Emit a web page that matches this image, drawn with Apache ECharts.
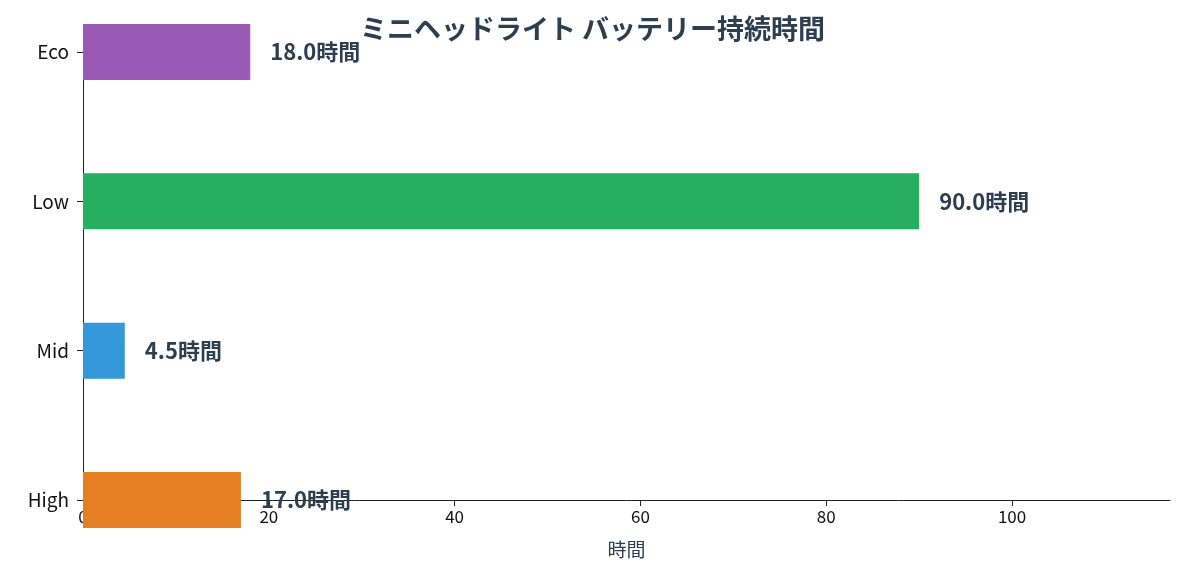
<!DOCTYPE html>
<html>
<head>
<meta charset="utf-8">
<script src="https://cdn.jsdelivr.net/npm/echarts@6/dist/echarts.min.js"></script>
<style>
  html, body { margin: 0; padding: 0; background: #fff; }
  #main { width: 1185px; height: 582px; }
</style>
</head>
<body>
<div id="main"></div>
<script>
var modes = ['High', 'Mid', 'Low', 'Eco'];
var hours = [17.0, 4.5, 90.0, 18.0];
var colors = ['#e67e22', '#3498db', '#27ae60', '#9b59b6'];

var font = '"Noto Sans CJK JP", "Noto Sans", sans-serif';
var chart = echarts.init(document.getElementById('main'));

var option = {
  textStyle: { fontFamily: font },
  title: {
    text: 'ミニヘッドライト バッテリー持続時間',
    left: 'center',
    top: 10,
    textStyle: { fontSize: 27, fontWeight: 'bold', color: '#2c3e50', fontFamily: font }
  },
  grid: { left: 83, right: 15, top: 52, bottom: 82 },
  xAxis: {
    type: 'value',
    min: 0,
    max: 117,
    interval: 20,
    name: '時間',
    nameLocation: 'middle',
    nameGap: 40,
    nameTextStyle: { fontSize: 19, color: '#2c3e50' },
    axisLine: { show: true, lineStyle: { color: '#222' } },
    axisTick: { show: true, length: 6, lineStyle: { color: '#222' } },
    axisLabel: { fontSize: 17, color: '#111', showMaxLabel: false },
    splitLine: { show: false }
  },
  yAxis: {
    type: 'category',
    data: modes,
    boundaryGap: false,
    min: -0.44,
    max: 3.44,
    axisLine: { show: true, lineStyle: { color: '#222' } },
    axisTick: { show: true, length: 6, lineStyle: { color: '#222' } },
    axisLabel: { fontSize: 19, color: '#111', margin: 14 }
  },
  series: [{
    type: 'bar',
    barWidth: 56,
    data: hours.map(function (v, i) {
      return { value: v, itemStyle: { color: colors[i] } };
    }),
    label: {
      show: true,
      position: 'right',
      distance: 20,
      fontSize: 22,
      fontWeight: 'bold',
      color: '#2c3e50',
      formatter: function (p) { return p.value.toFixed(1) + '時間'; }
    }
  }]
};

chart.setOption(option);
</script>
</body>
</html>
